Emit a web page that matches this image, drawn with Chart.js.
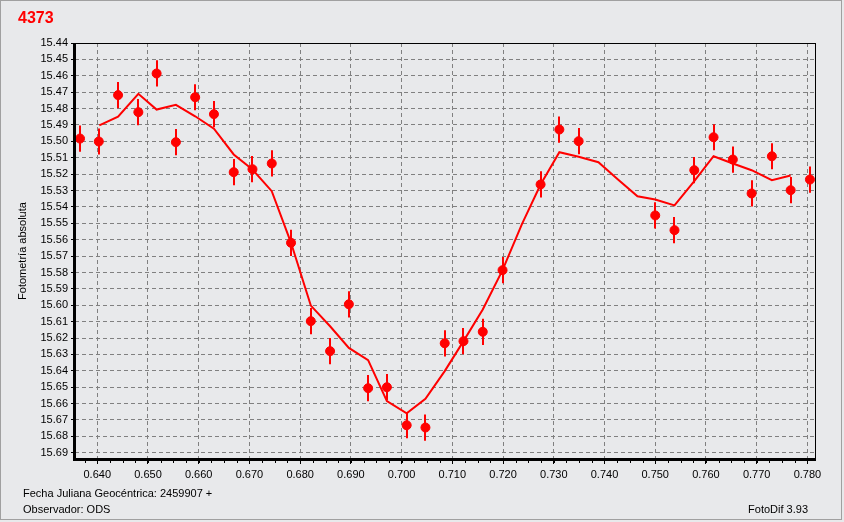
<!DOCTYPE html>
<html>
<head>
<meta charset="utf-8">
<script src="https://cdn.jsdelivr.net/npm/chart.js@4/dist/chart.umd.min.js"></script>
<style>
  body { margin: 0; background: #e8e9eb; }
  #wrap { position: relative; width: 844px; height: 522px; font-family: "Liberation Sans", Arial, sans-serif; }
  #chart { position: absolute; left: 0; top: 0; }
  .txt { position: absolute; color: #000; font-size: 11px; white-space: nowrap; line-height: 13px; }
  #title { left: 18px; top: 9px; color: #ff0000; font-weight: bold; font-size: 16px; line-height: 18px; }
  #ytitle { left: 22px; top: 251px; transform: translate(-50%, -50%) rotate(-90deg); }
</style>
</head>
<body>
<div id="wrap">
  <canvas id="chart" width="844" height="522"></canvas>
  <div id="title" class="txt">4373</div>
  <div id="ytitle" class="txt">Fotometría absoluta</div>
  <div class="txt" style="left:23px; top:487px;">Fecha Juliana Geocéntrica: 2459907 +</div>
  <div class="txt" style="left:23px; top:503px;">Observador: ODS</div>
  <div class="txt" style="right:36px; top:503px;">FotoDif 3.93</div>
</div>
<script>
"use strict";

// observations (fractional JD, magnitude)
const obsX = [0.6366, 0.6403, 0.6441, 0.6481, 0.6517, 0.6555, 0.6593, 0.6630, 0.6669, 0.6706,
  0.6744, 0.6782, 0.6821, 0.6859, 0.6896, 0.6934, 0.6971, 0.7010, 0.7047, 0.7085,
  0.7122, 0.7160, 0.7199, 0.7274, 0.7311, 0.7349, 0.7500, 0.7538, 0.7577, 0.7615,
  0.7653, 0.7690, 0.7730, 0.7767, 0.7805];
const obsY = [15.4983, 15.5001, 15.4718, 15.4822, 15.4586, 15.5005, 15.4731, 15.4834, 15.5188, 15.5170,
  15.5135, 15.5619, 15.6097, 15.6280, 15.5994, 15.6506, 15.6500, 15.6732, 15.6746, 15.6232,
  15.6219, 15.6162, 15.5786, 15.5263, 15.4928, 15.4999, 15.5452, 15.5542, 15.5176, 15.4975,
  15.5111, 15.5318, 15.5091, 15.5298, 15.5233];
const obsErr = 0.008;

// smoothed curve
const fitX = [0.6404, 0.6441, 0.6481, 0.6517, 0.6555, 0.6593, 0.6630, 0.6669, 0.6706, 0.6744,
  0.6782, 0.6821, 0.6859, 0.6896, 0.6934, 0.6971, 0.7010, 0.7047, 0.7085, 0.7122,
  0.7160, 0.7199, 0.7237, 0.7274, 0.7311, 0.7349, 0.7388, 0.7426, 0.7465, 0.7500,
  0.7538, 0.7577, 0.7615, 0.7653, 0.7690, 0.7730, 0.7767];
const fitY = [15.4903, 15.4850, 15.4710, 15.4806, 15.4777, 15.4847, 15.4923, 15.5080, 15.5172, 15.5304,
  15.5619, 15.6002, 15.6128, 15.6260, 15.6335, 15.6585, 15.6659, 15.6571, 15.6402, 15.6219,
  15.6026, 15.5786, 15.5507, 15.5263, 15.5066, 15.5094, 15.5127, 15.5231, 15.5335, 15.5355,
  15.5391, 15.5243, 15.5091, 15.5135, 15.5176, 15.5237, 15.5208];

const xMin = 0.63561, xMax = 0.7815, xStep = 0.01, xMinorStep = 0.0025;
const yMin = 15.44, yMax = 15.6938, yStep = 0.01;

const tickFont = { family: "'Liberation Sans', Arial, sans-serif", size: 11 };

const points = obsX.map((x, i) => ({ x: x, y: obsY[i] }));
const curve = fitX.map((x, i) => ({ x: x, y: fitY[i] }));

// background + outer panel border
const backPlugin = {
  id: "back",
  beforeDraw(chart) {
    const ctx = chart.ctx;
    ctx.save();
    ctx.fillStyle = "#e8e9eb";
    ctx.fillRect(0, 0, chart.width, chart.height);
    ctx.strokeStyle = "#a0a0a0";
    ctx.lineWidth = 1;
    ctx.strokeRect(0.5, 0.5, 841, 519);
    ctx.restore();
  }
};

// vertical error bars under the markers
const errorPlugin = {
  id: "errors",
  beforeDatasetsDraw(chart) {
    const ctx = chart.ctx, xs = chart.scales.x, ys = chart.scales.y;
    ctx.save();
    ctx.strokeStyle = "#ff0000";
    ctx.lineWidth = 2;
    for (let i = 0; i < obsX.length; i++) {
      const px = Math.round(xs.getPixelForValue(obsX[i]));
      ctx.beginPath();
      ctx.moveTo(px, ys.getPixelForValue(obsY[i] - obsErr));
      ctx.lineTo(px, ys.getPixelForValue(obsY[i] + obsErr));
      ctx.stroke();
    }
    ctx.restore();
  }
};

// plot frame and minor x ticks
const framePlugin = {
  id: "frame",
  afterDraw(chart) {
    const ctx = chart.ctx, a = chart.chartArea, xs = chart.scales.x;
    ctx.save();
    ctx.fillStyle = "#000";
    ctx.fillRect(a.left, a.top, a.right - a.left + 1, 1);
    ctx.fillRect(a.right, a.top, 1, a.bottom - a.top + 1);
    ctx.fillRect(a.left - 2, a.top, 3, a.bottom - a.top + 2);
    ctx.fillRect(a.left - 2, a.bottom - 1, a.right - a.left + 3, 3);
    for (let v = 0.6375; v < xMax; v += xMinorStep) {
      const px = Math.round(xs.getPixelForValue(v)) + 0.5;
      ctx.fillRect(px - 0.5, a.bottom + 2, 1, 2);
    }
    ctx.restore();
  }
};

new Chart(document.getElementById("chart"), {
  type: "scatter",
  data: {
    datasets: [
      {
        label: "curva",
        type: "line",
        data: curve,
        borderColor: "#ff0000",
        borderWidth: 2,
        pointRadius: 0,
        tension: 0,
        fill: false
      },
      {
        label: "observaciones",
        data: points,
        backgroundColor: "#ff0000",
        borderColor: "#ff0000",
        pointRadius: 4.5,
        pointHoverRadius: 4.5
      }
    ]
  },
  options: {
    responsive: false,
    animation: false,
    devicePixelRatio: 1,
    layout: { padding: { left: 0, top: 43, right: 29, bottom: 0 } },
    plugins: {
      legend: { display: false },
      tooltip: { enabled: false },
      title: { display: false }
    },
    scales: {
      x: {
        type: "linear",
        min: xMin,
        max: xMax,
        afterFit(scale) { scale.height = 63; },
        ticks: {
          stepSize: xStep,
          includeBounds: false,
          autoSkip: false,
          maxRotation: 0,
          padding: 4,
          color: "#000",
          font: tickFont,
          callback: (v) => v.toFixed(3)
        },
        grid: { color: "#808080", lineWidth: 1, tickColor: "#000", tickLength: 5 },
        border: { display: false, dash: [4, 3] }
      },
      y: {
        type: "linear",
        reverse: true,
        min: yMin,
        max: yMax,
        afterFit(scale) { scale.width = 75; },
        ticks: {
          stepSize: yStep,
          includeBounds: false,
          autoSkip: false,
          padding: 3,
          color: "#000",
          font: tickFont,
          callback: (v) => v.toFixed(2)
        },
        grid: { color: "#808080", lineWidth: 1, tickColor: "#000", tickLength: 4 },
        border: { display: false, dash: [4, 3] }
      }
    }
  },
  plugins: [backPlugin, errorPlugin, framePlugin]
});
</script>
</body>
</html>
